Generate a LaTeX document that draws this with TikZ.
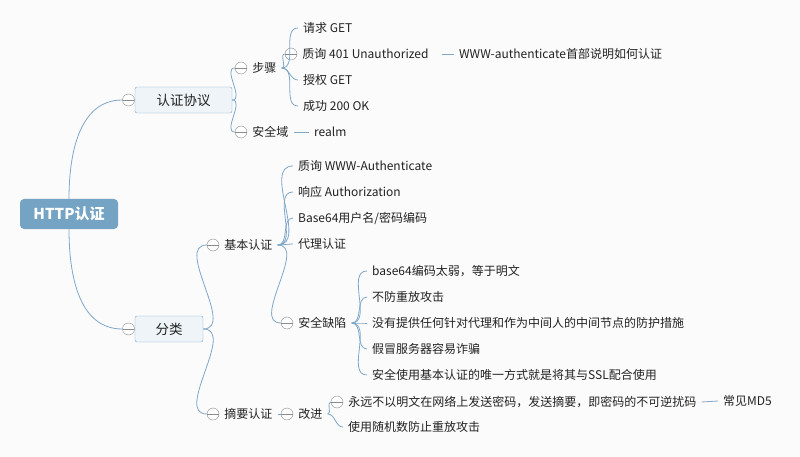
\documentclass[tikz,border=0pt]{standalone}
\usepackage{fontspec}
\setmainfont{Noto Sans CJK SC}
\usetikzlibrary{positioning}
\definecolor{bgcol}{HTML}{FBFBFB}
\definecolor{rootcol}{HTML}{74A3C3}
\definecolor{boxcol}{HTML}{EEF4F8}
\definecolor{edgecol}{HTML}{7EA8C9}
\definecolor{foldcol}{HTML}{8C8C8C}
\definecolor{inkcol}{HTML}{222222}

\begin{document}
\begin{tikzpicture}[x=1pt, y=-1pt,
  every node/.style={inner sep=0pt, text=inkcol, font=\fontsize{12}{14}\selectfont},
  root/.style={fill=rootcol, rounded corners=4pt, minimum width=98pt, minimum height=30pt, text=white, font=\fontsize{15}{17}\selectfont\bfseries},
  box/.style={draw=edgecol, fill=boxcol, rounded corners=2pt, minimum width=97pt, minimum height=26pt, font=\fontsize{13.5}{16}\selectfont},
  topic/.style={anchor=west, inner xsep=5pt, minimum height=14pt},
  fold/.style={circle, draw=foldcol, fill=white, minimum size=12pt, path picture={\draw[foldcol] (path picture bounding box.west) -- (path picture bounding box.east);}},
  branch/.style={color=edgecol, line width=0.8pt},
  curvy/.style={out=0, in=180},
]
\useasboundingbox[fill=bgcol] (0,0) rectangle (800,457);

% main topics
\node[root] (http) at (69,214) {HTTP认证};
\node[box] (proto) at (183.5,100) {认证协议};
\node[box, minimum width=68pt] (kinds) at (169,329) {分类};
\node[fold] (f1) at (128.5,100) {};
\node[fold] (f2) at (128.5,329) {};

% protocol
\node[fold] (f3) at (241,68) {};
\node[topic, right=0pt of f3] (steps) {步骤};
\node[fold] (f4) at (241,132) {};
\node[topic, right=0pt of f4] (domain) {安全域};
\node[topic] (realm) at (309,132) {realm};

\node[topic] (get) at (298,28) {请求 GET};
\node[fold] (f5) at (291,54) {};
\node[topic, right=0pt of f5] (challenge) {质询 401 Unauthorized};
\node[topic] (wwwauth) at (454,54) {WWW-authenticate首部说明如何认证};
\node[topic] (grant) at (298,80) {授权 GET};
\node[topic] (ok) at (298,106) {成功 200 OK};

% kinds
\node[fold] (f6) at (213,245) {};
\node[topic, right=0pt of f6] (basic) {基本认证};
\node[fold] (f7) at (213,414) {};
\node[topic, right=0pt of f7] (digest) {摘要认证};

\node[topic] (ask) at (293,166) {质询 WWW-Authenticate};
\node[topic] (resp) at (293,192) {响应 Authorization};
\node[topic] (b64) at (293,218) {Base64用户名/密码编码};
\node[topic] (proxy) at (293,244) {代理认证};
\node[fold] (f8) at (287,323) {};
\node[topic, right=0pt of f8] (flaw) {安全缺陷};

\node[topic] (weak) at (367,271) {base64编码太弱，等于明文};
\node[topic] (replay) at (367,297) {不防重放攻击};
\node[topic] (middle) at (367,323) {没有提供任何针对代理和作为中间人的中间节点的防护措施};
\node[topic] (fake) at (367,349) {假冒服务器容易诈骗};
\node[topic] (ssl) at (367,375) {安全使用基本认证的唯一方式就是将其与SSL配合使用};

\node[fold] (f9) at (287,414) {};
\node[topic, right=0pt of f9] (fix) {改进};
\node[fold] (f10) at (337,402) {};
\node[topic, right=0pt of f10] (never) {永远不以明文在网络上发送密码，发送摘要，即密码的不可逆扰码};
\node[topic] (md5) at (718,401) {常见MD5};
\node[topic] (nonce) at (343,427) {使用随机数防止重放攻击};

\path[branch]
  (http.north) edge[out=90, in=180] (f1.west)
  (http.south) edge[out=-90, in=180] (f2.west)
  (proto.east) edge[curvy] (f3.west) edge[curvy] (f4.west)
  (steps.east) edge[curvy] (get.west) edge[curvy] (f5.west)
               edge[curvy] (grant.west) edge[curvy] (ok.west)
  (challenge.east) edge[shorten <=8pt] (wwwauth.west)
  (domain.east) edge (realm.west)
  (kinds.east) edge[curvy] (f6.west) edge[curvy] (f7.west)
  (basic.east) edge[curvy] (ask.west) edge[curvy] (resp.west) edge[curvy] (b64.west)
               edge[curvy] (proxy.west) edge[curvy] (f8.west)
  (flaw.east) edge[curvy] (weak.west) edge[curvy] (replay.west) edge[curvy] (middle.west)
              edge[curvy] (fake.west) edge[curvy] (ssl.west)
  (digest.east) edge (f9.west)
  (fix.east) edge[curvy] (f10.west) edge[curvy] (nonce.west)
  (never.east) edge (md5.west)
  ;
\end{tikzpicture}
\end{document}
